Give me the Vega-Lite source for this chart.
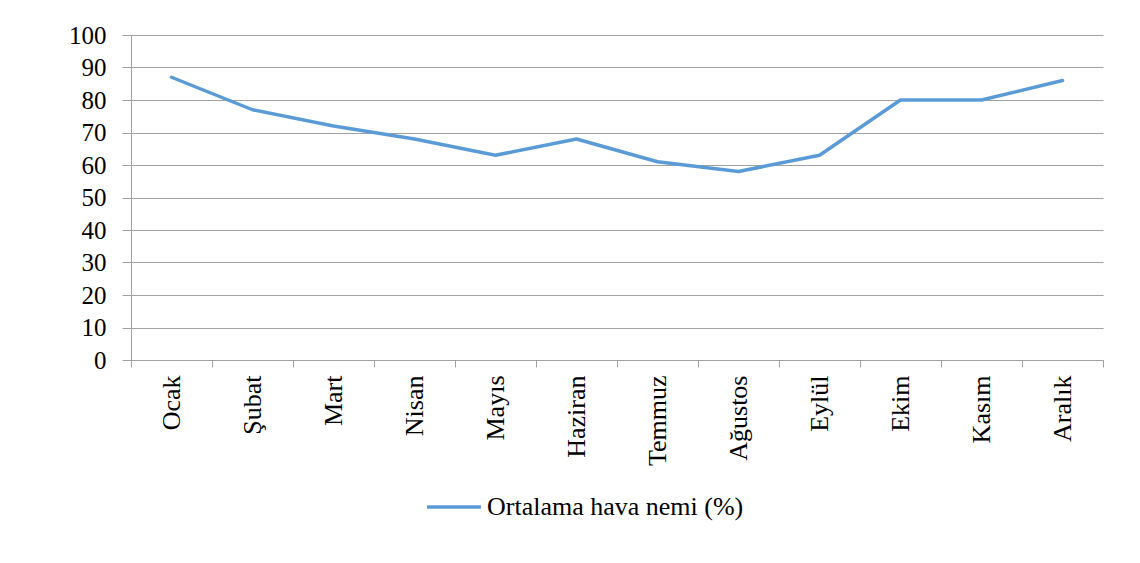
{
  "$schema": "https://vega.github.io/schema/vega-lite/v6.json",
  "autosize": "none",
  "width": 972,
  "height": 325,
  "padding": {"left": 131, "top": 35, "right": 37, "bottom": 203},
  "background": "white",
  "data": {
    "values": [
      {"ay": "Ocak", "nem": 87, "seri": "Ortalama hava nemi (%)"},
      {"ay": "Şubat", "nem": 77, "seri": "Ortalama hava nemi (%)"},
      {"ay": "Mart", "nem": 72, "seri": "Ortalama hava nemi (%)"},
      {"ay": "Nisan", "nem": 68, "seri": "Ortalama hava nemi (%)"},
      {"ay": "Mayıs", "nem": 63, "seri": "Ortalama hava nemi (%)"},
      {"ay": "Haziran", "nem": 68, "seri": "Ortalama hava nemi (%)"},
      {"ay": "Temmuz", "nem": 61, "seri": "Ortalama hava nemi (%)"},
      {"ay": "Ağustos", "nem": 58, "seri": "Ortalama hava nemi (%)"},
      {"ay": "Eylül", "nem": 63, "seri": "Ortalama hava nemi (%)"},
      {"ay": "Ekim", "nem": 80, "seri": "Ortalama hava nemi (%)"},
      {"ay": "Kasım", "nem": 80, "seri": "Ortalama hava nemi (%)"},
      {"ay": "Aralık", "nem": 86, "seri": "Ortalama hava nemi (%)"}
    ]
  },
  "mark": {"type": "line", "strokeWidth": 3.5, "strokeCap": "round", "strokeJoin": "round"},
  "encoding": {
    "x": {
      "field": "ay",
      "type": "ordinal",
      "sort": null,
      "scale": {"type": "band", "paddingInner": 0, "paddingOuter": 0},
      "axis": {
        "title": null,
        "labelAngle": -90,
        "labelAlign": "right",
        "labelBaseline": "middle",
        "labelPadding": 8,
        "labelFontSize": 26,
        "tickBand": "extent",
        "tickSize": 7,
        "grid": false
      }
    },
    "y": {
      "field": "nem",
      "type": "quantitative",
      "scale": {"domain": [0, 100], "nice": false},
      "axis": {
        "title": null,
        "values": [0, 10, 20, 30, 40, 50, 60, 70, 80, 90, 100],
        "labelPadding": 16,
        "labelFontSize": 25,
        "tickSize": 9,
        "grid": true
      }
    },
    "color": {
      "field": "seri",
      "type": "nominal",
      "scale": {"range": ["#5b9bd5"]},
      "legend": {
        "title": null,
        "orient": "none",
        "legendX": 294,
        "legendY": 443,
        "symbolType": "stroke",
        "symbolSize": 2900,
        "symbolStrokeWidth": 3.5,
        "labelOffset": 4,
        "labelLimit": 500,
        "labelFont": "Liberation Serif",
        "labelFontSize": 26,
        "labelColor": "#000000"
      }
    }
  },
  "config": {
    "font": "Liberation Serif",
    "view": {"stroke": null},
    "axis": {
      "labelFont": "Liberation Serif",
      "labelColor": "#000000",
      "tickColor": "#a0a0a0",
      "domainColor": "#a0a0a0",
      "gridColor": "#a0a0a0"
    },
    "legend": {
      "labelFont": "Liberation Serif",
      "labelFontSize": 26,
      "labelColor": "#000000"
    }
  }
}
